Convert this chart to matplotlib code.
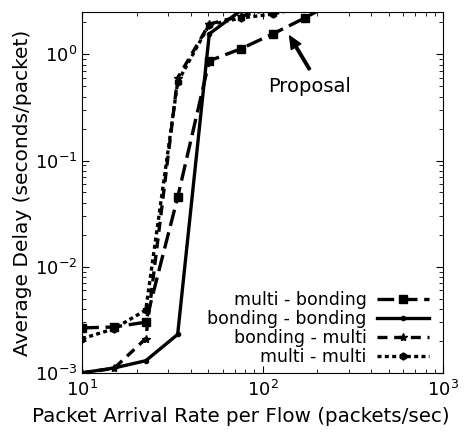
import matplotlib
matplotlib.use('Agg')
import matplotlib.pyplot as plt

# packet arrival rate per flow (packets/sec)
rate = [10, 15, 22.5, 33.8, 50.6, 75.9, 113.9, 170.9, 256.3]

# average delay (seconds/packet)
multi_bonding = [0.00265, 0.0027, 0.003, 0.045, 0.87, 1.13, 1.56, 2.2, 3.2]
bonding_bonding = [0.001, 0.00111, 0.0013, 0.0023, 1.56, 2.6]
bonding_multi = [0.001, 0.0011, 0.0021, 0.6, 1.93, 2.3, 2.7]
multi_multi = [0.0021, 0.0026, 0.0039, 0.55, 1.9, 2.2, 2.4, 2.8]

plt.rcParams['font.family'] = 'DejaVu Sans'
fig = plt.figure(figsize=(4.67, 4.33), dpi=100)
ax = fig.add_axes([0.176, 0.139, 0.773, 0.833])

ax.plot(rate[:len(multi_bonding)], multi_bonding, color='black', lw=2.4,
        dashes=(5, 2), marker='s', ms=6, label='multi - bonding')
ax.plot(rate[:len(bonding_bonding)], bonding_bonding, color='black', lw=2.4,
        marker='o', ms=3, label='bonding - bonding')
ax.plot(rate[:len(bonding_multi)], bonding_multi, color='black', lw=2.4,
        dashes=(3, 2), marker='*', ms=6, label='bonding - multi')
ax.plot(rate[:len(multi_multi)], multi_multi, color='black', lw=2.4,
        dashes=(1.2, 1), marker='h', ms=5, label='multi - multi')

ax.set_xscale('log')
ax.set_yscale('log')
ax.set_xlim(10, 1000)
ax.set_ylim(1e-3, 2.5)
ax.tick_params(which='both', direction='in', top=True, right=True, labelsize=13)
ax.tick_params(axis='x', pad=5)
ax.tick_params(which='major', length=5)
ax.tick_params(which='minor', length=3)

ax.set_xlabel('Packet Arrival Rate per Flow (packets/sec)', fontsize=14.3)
ax.xaxis.set_label_coords(0.44, -0.095)
ax.set_ylabel('Average Delay (seconds/packet)', fontsize=14.5, labelpad=2)

# arrow and label for the proposal curve
ax.annotate('', xy=(141, 1.49), xytext=(182, 0.72),
            arrowprops=dict(facecolor='black', edgecolor='black', width=1.8,
                            headwidth=8, headlength=9, shrink=0.0))
ax.text(182, 0.5, 'Proposal', fontsize=14, ha='center', va='center')

ax.legend(loc='lower right', frameon=False, markerfirst=False, fontsize=12.5,
          handlelength=3.0, labelspacing=0.05, borderaxespad=0.0, handletextpad=0.6,
          bbox_to_anchor=(0.98, 0.0))

fig.savefig('out.png', dpi=100)
